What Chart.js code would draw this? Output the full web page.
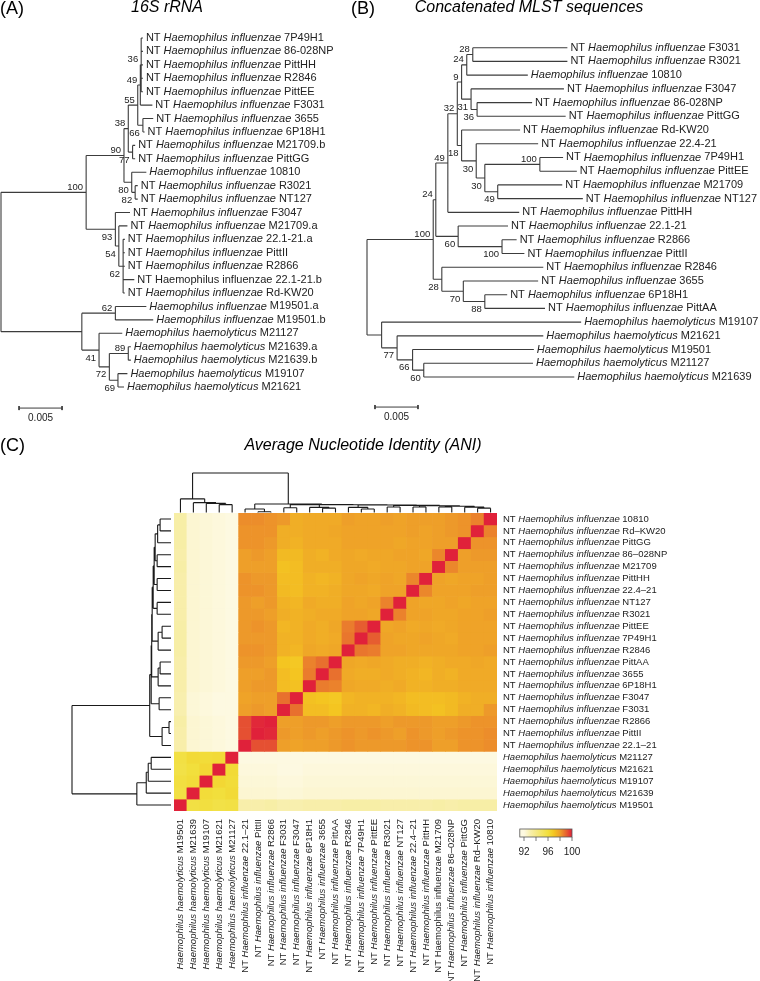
<!DOCTYPE html>
<html>
<head>
<meta charset="utf-8">
<script src="https://cdn.jsdelivr.net/npm/chart.js@4.4.1/dist/chart.umd.min.js"></script>
<style>
  body { margin: 0; background: #fff; width: 760px; height: 981px; position: relative; overflow: hidden; }
  canvas { position: absolute; }
</style>
</head>
<body>
<canvas id="treeA" width="350" height="440" style="left:0;top:0"></canvas>
<canvas id="treeB" width="410" height="440" style="left:350px;top:0"></canvas>
<canvas id="ani" width="760" height="551" style="left:0;top:430px"></canvas>
<script>
// ---- (A) 16S rRNA tree ----
const leavesA = ["7P49H1", "86-028NP", "PittHH", "R2846", "PittEE", "F3031", "3655", "6P18H1",
  "M21709.b", "PittGG", "10810", "R3021", "NT127", "F3047", "M21709.a", "22.1-21.a", "PittII",
  "R2866", "22.1-21.b", "Rd-KW20", "M19501.a", "M19501.b", "M21127", "M21639.a", "M21639.b",
  "M19107", "M21621"];
// nt = NT H. influenzae, hi = H. influenzae, hh = H. haemolyticus, ntu = printed upright
const leafTypeA = ["nt", "nt", "nt", "nt", "nt", "nt", "nt", "nt", "nt", "nt", "hi", "nt", "nt",
  "nt", "nt", "nt", "nt", "nt", "ntu", "nt", "hi", "hi", "hh", "hh", "hh", "hh", "hh"];
const leafDepthA = [0.0165, 0.0165, 0.0165, 0.0165, 0.0165, 0.0176, 0.0177, 0.0167, 0.0156, 0.0156,
  0.0169, 0.0159, 0.0159, 0.0150, 0.0147, 0.0144, 0.0144, 0.0144, 0.0155, 0.0144, 0.0169, 0.0177,
  0.0141, 0.0151, 0.0151, 0.0147, 0.0143];
const nodeIdA = ["root", "top", "n90", "n38", "n55", "n49", "n36", "n66", "n77", "n80", "n82", "n93",
  "n54", "n62", "bot", "n62b", "n41", "n72", "n89", "n69"];
const nodeKidsA = [["top", "bot"], ["n90", "n93"], ["n38", "n80"], ["n55", "n77"], ["n49", "n66"],
  ["n36", 5], [0, 1, 2, 3, 4], [6, 7], [8, 9], [10, "n82"], [11, 12], [13, "n54"], [14, "n62"],
  [15, 16, 17, 18, 19], ["n62b", "n41"], [20, 21], [22, "n72"], ["n89", "n69"], [23, 24], [25, 26]];
const nodeDepthA = [0, 0.0099, 0.0143, 0.0148, 0.0159, 0.0162, 0.0163, 0.0165, 0.0153, 0.0152, 0.0156,
  0.0133, 0.0137, 0.0142, 0.0094, 0.0133, 0.0114, 0.0126, 0.0148, 0.0136];
const bootA = ["", "100", "90", "38", "55", "49", "36", "66", "77", "80", "82", "93", "54", "62", "",
  "62", "41", "72", "89", "69"];
const bootSideA = [0, 1, 1, 1, 1, 1, 1, -1, -1, -1, -1, -1, -1, -1, 0, 1, -1, -1, 1, -1];

// ---- (B) concatenated MLST tree ----
const leavesB = ["F3031", "R3021", "10810", "F3047", "86-028NP", "PittGG", "Rd-KW20", "22.4-21",
  "7P49H1", "PittEE", "M21709", "NT127", "PittHH", "22.1-21", "R2866", "PittII", "R2846", "3655",
  "6P18H1", "PittAA", "M19107", "M21621", "M19501", "M21127", "M21639"];
const leafTypeB = ["nt", "nt", "hi", "nt", "nt", "nt", "nt", "nt", "nt", "nt", "nt", "nt", "nt",
  "nt", "nt", "nt", "nt", "nt", "nt", "nt", "hh", "hh", "hh", "hh", "hh"];
const leafDepthB = [0.0233, 0.0233, 0.0187, 0.0229, 0.0192, 0.0231, 0.0178, 0.0199, 0.0228, 0.0244,
  0.0227, 0.0251, 0.0177, 0.0164, 0.0174, 0.0183, 0.0205, 0.0199, 0.0163, 0.0207, 0.0249, 0.0205,
  0.0194, 0.0193, 0.0241];
const nodeIdB = ["root", "c100", "n24", "n49", "n32", "n9", "n24b", "n28b", "n31", "n36", "n18",
  "n30a", "n30b", "n100c", "n49c", "n60", "n100d", "n28", "n70", "n88", "hh", "n77", "n66", "n60b"];
const nodeKidsB = [["c100", "hh"], ["n24", "n28"], ["n49", "n60"], ["n32", 12], ["n9", "n18"],
  ["n24b", "n31"], ["n28b", 2], [0, 1], [3, "n36"], [4, 5], [6, "n30a"], [7, "n30b"],
  ["n100c", "n49c"], [8, 9], [10, 11], [13, "n100d"], [14, 15], [16, "n70"], [17, "n88"], [18, 19],
  [20, "n77"], [21, "n66"], [22, "n60b"], [23, 24]];
const nodeDepthB = [0, 0.0077, 0.0080, 0.0094, 0.0105, 0.0110, 0.0116, 0.0123, 0.0121, 0.0128, 0.0110,
  0.0127, 0.0137, 0.0201, 0.0152, 0.0106, 0.0157, 0.0087, 0.0112, 0.0137, 0.0017, 0.0035, 0.0053, 0.0066];
const bootB = ["", "100", "24", "49", "32", "9", "24", "28", "31", "36", "18", "30", "30", "100", "49",
  "60", "100", "28", "70", "88", "", "77", "66", "60"];
const bootSideB = [0, 1, 1, 1, 1, 1, 1, 1, -1, -1, -1, -1, -1, 1, -1, -1, -1, -1, -1, -1, 0, -1, -1, -1];

// ---- (C) ANI heatmap, strains in column order (rows are the reverse) ----
const colStrains = ["M19501", "M21639", "M19107", "M21621", "M21127", "22.1\u201321", "PittII", "R2866",
  "F3031", "F3047", "6P18H1", "3655", "PittAA", "R2846", "7P49H1", "PittEE", "R3021", "NT127",
  "22.4\u201321", "PittHH", "M21709", "86\u2013028NP", "PittGG", "Rd\u2013KW20", "10810"];
const colType = ["hh", "hh", "hh", "hh", "hh", "nt", "nt", "nt", "nt", "nt", "nt", "nt", "nt", "nt",
  "nt", "nt", "nt", "nt", "nt", "nt", "ntu", "nt", "nt", "nt", "nt"];
// lower triangle: aniLower[i-1][j] = ANI of strain i vs strain j (j < i)
const aniLower = [
  [95.8],
  [95.9, 96.1],
  [95.7, 96.0, 96.3],
  [95.8, 96.2, 96.1, 96.2],
  [93.1, 92.3, 92.2, 92.1, 92.0],
  [93.1, 92.3, 92.2, 92.1, 92.0, 99.3],
  [93.2, 92.3, 92.2, 92.1, 92.0, 99.3, 99.9],
  [93.0, 92.2, 92.1, 92.0, 92.0, 98.0, 98.1, 98.0],
  [93.0, 92.2, 92.1, 92.0, 92.0, 97.9, 98.0, 98.0, 98.8],
  [93.1, 92.3, 92.2, 92.1, 92.0, 98.0, 98.1, 98.1, 97.2, 97.1],
  [93.1, 92.3, 92.2, 92.1, 92.0, 98.0, 98.0, 98.1, 97.2, 97.0, 98.6],
  [93.1, 92.3, 92.2, 92.1, 92.0, 98.1, 98.1, 98.0, 97.0, 96.9, 98.5, 98.8],
  [93.2, 92.3, 92.2, 92.1, 92.0, 98.2, 98.2, 98.1, 97.5, 97.4, 97.8, 97.7, 97.8],
  [93.2, 92.3, 92.2, 92.1, 92.0, 98.1, 98.1, 98.1, 97.5, 97.5, 97.7, 97.6, 97.7, 98.7],
  [93.2, 92.3, 92.2, 92.1, 92.0, 98.1, 98.2, 98.1, 97.4, 97.5, 97.7, 97.6, 97.8, 98.6, 99.1],
  [93.1, 92.3, 92.2, 92.1, 92.0, 98.1, 98.1, 98.0, 97.6, 97.5, 97.6, 97.7, 97.7, 97.9, 97.9, 97.8],
  [93.1, 92.3, 92.2, 92.1, 92.0, 98.1, 98.0, 98.1, 97.5, 97.4, 97.7, 97.6, 97.6, 97.9, 97.8, 97.9, 98.5],
  [93.1, 92.3, 92.2, 92.1, 92.0, 98.2, 98.2, 98.1, 97.3, 97.2, 97.5, 97.5, 97.6, 97.8, 97.8, 97.7, 97.9, 97.9],
  [93.1, 92.3, 92.2, 92.1, 92.0, 98.2, 98.1, 98.1, 97.2, 97.2, 97.5, 97.4, 97.5, 97.8, 97.9, 97.8, 97.9, 97.8, 98.4],
  [93.2, 92.3, 92.2, 92.1, 92.0, 98.0, 98.0, 98.0, 97.1, 97.2, 97.6, 97.6, 97.6, 97.8, 97.8, 97.7, 97.8, 97.8, 97.9, 97.9],
  [93.1, 92.3, 92.2, 92.1, 92.0, 98.0, 98.1, 98.0, 97.3, 97.3, 97.6, 97.5, 97.7, 97.8, 97.7, 97.8, 97.8, 97.9, 97.9, 97.8, 98.4],
  [93.2, 92.3, 92.2, 92.1, 92.0, 98.2, 98.2, 98.1, 97.6, 97.5, 97.7, 97.7, 97.7, 97.9, 97.9, 97.9, 97.9, 97.8, 97.9, 97.9, 98.0, 98.0],
  [93.2, 92.3, 92.2, 92.1, 92.0, 98.2, 98.2, 98.2, 97.6, 97.6, 97.7, 97.7, 97.8, 97.9, 97.9, 97.9, 97.9, 97.9, 98.0, 97.9, 98.0, 98.1, 98.2],
  [93.2, 92.3, 92.2, 92.1, 92.0, 98.3, 98.3, 98.2, 98.1, 97.6, 97.7, 97.7, 97.7, 98.0, 97.9, 97.9, 98.0, 97.9, 98.0, 98.0, 98.0, 98.1, 98.2, 98.5]
];
// clustering of the ANI matrix; refs: number = strain (column index), "m#" = earlier merge
const mergeKids = [[3, 4], [2, "m0"], [1, "m1"], [0, "m2"], [6, 7], [5, "m4"], [8, 9], [11, 12],
  [10, "m7"], [14, 15], [13, "m9"], [16, 17], [18, 19], [20, 21], [23, 24], [22, "m14"],
  ["m13", "m15"], ["m12", "m16"], ["m11", "m17"], ["m10", "m18"], ["m8", "m19"], ["m6", "m20"],
  ["m5", "m21"], ["m3", "m22"]];
const mergeHeight = [2.0, 2.3, 2.5, 3.45, 0.2, 0.9, 1.2, 1.1, 1.3, 0.9, 1.3, 1.4, 1.4, 1.4, 1.1, 1.35,
  1.6, 1.7, 1.8, 1.9, 1.95, 2.0, 2.15, 10];
const keyValues = [92, 93, 94, 95, 96, 97, 98, 99, 100];
const keyColours = ["#fdf9e1", "#f8efae", "#f5e988", "#f3e462", "#f2df3c", "#f4c521", "#ee9f29",
  "#e7642f", "#e0213a"];
const keyTicks = [92, 94, 96, 98, 100];
const keyLabels = [92, 96, 100];

const FONT = '"Liberation Sans", Arial, Helvetica, sans-serif';
const INK = "#222";

function nameParts(type, strain) {
  if (type === "nt") return [["NT ", false], ["Haemophilus influenzae", true], [" " + strain, false]];
  if (type === "hi") return [["Haemophilus influenzae", true], [" " + strain, false]];
  if (type === "hh") return [["Haemophilus haemolyticus", true], [" " + strain, false]];
  return [["NT Haemophilus influenzae " + strain, false]];
}

function drawParts(ctx, parts, x, y, size, align) {
  const fonts = parts.map((p) => (p[1] ? "italic " : "") + size + "px " + FONT);
  const widths = parts.map((p, i) => { ctx.font = fonts[i]; return ctx.measureText(p[0]).width; });
  let cx = align === "right" ? x - widths.reduce((a, b) => a + b, 0) : x;
  ctx.textAlign = "left";
  ctx.textBaseline = "middle";
  parts.forEach((p, i) => { ctx.font = fonts[i]; ctx.fillText(p[0], cx, y); cx += widths[i]; });
}

// scale limits so that value v0 sits at pixel p0 and v1 at p1; a/b = pixels of min/max
function fit(v0, p0, v1, p1, a, b) {
  const k = (p1 - p0) / (v1 - v0);
  return { min: v0 + (a - p0) / k, max: v0 + (b - p0) / k };
}

function buildTree(ids, kids, depth, leafDepth) {
  const yOf = {};
  const ny = (ref) => {
    if (typeof ref === "number") return ref;
    if (yOf[ref] === undefined) {
      const ys = kids[ids.indexOf(ref)].map(ny);
      yOf[ref] = (Math.min(...ys) + Math.max(...ys)) / 2;
    }
    return yOf[ref];
  };
  const dx = (ref) => (typeof ref === "number" ? leafDepth[ref] : depth[ids.indexOf(ref)]);
  const pts = [];
  ids.forEach((id, i) => {
    const ys = kids[i].map(ny);
    pts.push({ x: depth[i], y: Math.min(...ys) }, { x: depth[i], y: Math.max(...ys) }, { x: null, y: null });
    kids[i].forEach((k) => pts.push({ x: depth[i], y: ny(k) }, { x: dx(k), y: ny(k) }, { x: null, y: null }));
  });
  return { pts, nodeY: ids.map(ny) };
}

function scaleBar(x0, y) {
  const t = 0.15;
  return [{ x: x0, y: y - t }, { x: x0, y: y + t }, { x: null, y: null },
    { x: x0, y: y }, { x: x0 + 0.005, y: y }, { x: null, y: null },
    { x: x0 + 0.005, y: y - t }, { x: x0 + 0.005, y: y + t }];
}

function makeTree(canvasId, t) {
  const canvas = document.getElementById(canvasId);
  const W = canvas.width, H = canvas.height;
  const tree = buildTree(t.ids, t.kids, t.depth, t.leafDepth);
  const n = t.leaves.length;
  const xs = fit(0, t.rootPx, 0.005, t.rootPx + 43, 0, W);
  const ys = fit(0, t.firstPx, n - 1, t.lastPx, 0, H);
  const textPlugin = {
    id: "treeText",
    afterDatasetsDraw(chart) {
      const { ctx, scales: { x, y } } = chart;
      ctx.save();
      ctx.fillStyle = INK;
      t.leaves.forEach((s, i) =>
        drawParts(ctx, nameParts(t.types[i], s), x.getPixelForValue(t.leafDepth[i]) + 3, y.getPixelForValue(i), 11, "left"));
      ctx.font = "9.5px " + FONT;
      ctx.textAlign = "right";
      ctx.textBaseline = "middle";
      t.boot.forEach((b, i) => {
        if (!b) return;
        ctx.fillText(b, x.getPixelForValue(t.depth[i]) - 3, y.getPixelForValue(tree.nodeY[i]) + (t.side[i] > 0 ? -5 : 8));
      });
      ctx.textAlign = "center";
      ctx.font = "10px " + FONT;
      ctx.fillText("0.005", x.getPixelForValue(t.barX + 0.0025), y.getPixelForValue(t.barY) + 10);
      ctx.textAlign = "left";
      ctx.fillStyle = "#000";
      ctx.font = "18px " + FONT;
      ctx.fillText(t.tag, t.tagX, 9);
      ctx.textAlign = "center";
      ctx.font = "italic 16px " + FONT;
      ctx.fillText(t.title, t.titleX, 8);
      ctx.restore();
    },
  };
  return new Chart(canvas, {
    type: "scatter",
    data: {
      datasets: [
        { data: tree.pts, showLine: true, spanGaps: false, borderColor: "#3c3c3c", borderWidth: 1.1, pointRadius: 0, clip: false },
        { data: scaleBar(t.barX, t.barY), showLine: true, spanGaps: false, borderColor: "#3c3c3c", borderWidth: 1, pointRadius: 0, clip: false },
      ],
    },
    options: {
      responsive: false,
      animation: false,
      events: [],
      layout: { padding: 0 },
      scales: {
        x: { type: "linear", display: false, offset: false, min: xs.min, max: xs.max },
        y: { type: "linear", display: false, offset: false, reverse: true, min: ys.min, max: ys.max },
      },
      plugins: { legend: { display: false }, tooltip: { enabled: false } },
    },
    plugins: [textPlugin],
  });
}

makeTree("treeA", {
  leaves: leavesA, types: leafTypeA, leafDepth: leafDepthA, ids: nodeIdA, kids: nodeKidsA,
  depth: nodeDepthA, boot: bootA, side: bootSideA,
  rootPx: 1, firstPx: 38, lastPx: 387, barX: 0.0021, barY: 27.57,
  tag: "(A)", tagX: 0, title: "16S rRNA", titleX: 167,
});
makeTree("treeB", {
  leaves: leavesB, types: leafTypeB, leafDepth: leafDepthB, ids: nodeIdB, kids: nodeKidsB,
  depth: nodeDepthB, boot: bootB, side: bootSideB,
  rootPx: 17, firstPx: 47.7, lastPx: 377, barX: 0.00093, barY: 26.19,
  tag: "(B)", tagX: 1, title: "Concatenated MLST sequences", titleX: 179,
});

// ---- heatmap ----
const nS = colStrains.length;
const ani = colStrains.map((_, i) => colStrains.map((_, j) =>
  i === j ? 100 : i > j ? aniLower[i - 1][j] : aniLower[j - 1][i]));

function hexRgb(h) { return [1, 3, 5].map((k) => parseInt(h.slice(k, k + 2), 16)); }
function aniColour(v) {
  let k = 0;
  while (k < keyValues.length - 2 && v > keyValues[k + 1]) k++;
  const f = Math.max(0, Math.min(1, (v - keyValues[k]) / (keyValues[k + 1] - keyValues[k])));
  const a = hexRgb(keyColours[k]), b = hexRgb(keyColours[k + 1]);
  return "rgb(" + a.map((c, i) => Math.round(c + (b[i] - c) * f)).join(",") + ")";
}

function dendroPoints(toXY) {
  const pos = [], hgt = [];
  const p = (r) => (typeof r === "number" ? r + 0.5 : pos[+r.slice(1)]);
  const h = (r) => (typeof r === "number" ? 0 : hgt[+r.slice(1)]);
  const pts = [];
  mergeKids.forEach((pair, m) => {
    const H = mergeHeight[m];
    const [a, b] = pair;
    pos[m] = (p(a) + p(b)) / 2;
    hgt[m] = H;
    [[p(a), h(a), p(a), H], [p(a), H, p(b), H], [p(b), H, p(b), h(b)]].forEach((s) => {
      pts.push(toXY(s[0], s[1]), toXY(s[2], s[3]), { x: null, y: null });
    });
  });
  return pts;
}

const C_TOP = 430;
const area = { left: 174, right: 497, top: 513 - C_TOP, bottom: 811 - C_TOP };
const cCanvas = document.getElementById("ani");

const rowDatasets = colStrains.map((_, r) => ({
  type: "bar",
  data: colStrains.map(() => [r, r + 1]),
  backgroundColor: colStrains.map((_, c) => aniColour(ani[nS - 1 - r][c])),
  borderWidth: 0,
  barPercentage: 1,
  categoryPercentage: 1,
  grouped: false,
}));

const topY = fit(0, 512.5 - C_TOP, 10, 473 - C_TOP, area.bottom, area.top);
const leftX = fit(0, 171, 10, 72, area.right, area.left);

const heatText = {
  id: "heatText",
  afterDatasetsDraw(chart) {
    const { ctx, scales } = chart;
    ctx.save();
    ctx.fillStyle = INK;
    colStrains.forEach((s, c) => {
      const x = scales.xTop.getPixelForValue(c + 0.5);
      ctx.save();
      ctx.translate(x, area.bottom + 8);
      ctx.rotate(-Math.PI / 2);
      drawParts(ctx, nameParts(colType[c], s), 0, 0, 9.5, "right");
      ctx.restore();
    });
    colStrains.forEach((s, c) => {
      const r = nS - 1 - c;
      drawParts(ctx, nameParts(colType[c] === "ntu" ? "nt" : colType[c], s), 503, scales.y.getPixelForValue(r + 0.5), 9.5, "left");
    });
    // colour key
    const kx = (v) => 524 + (v - 92) * 6;
    const ky = 829 - C_TOP;
    const g = ctx.createLinearGradient(kx(92), 0, kx(100), 0);
    keyValues.forEach((v, i) => g.addColorStop((v - 92) / 8, keyColours[i]));
    ctx.fillStyle = g;
    ctx.fillRect(kx(91.3), ky, kx(100) - kx(91.3), 8);
    ctx.strokeStyle = "#555";
    ctx.lineWidth = 0.8;
    ctx.strokeRect(kx(91.3), ky, kx(100) - kx(91.3), 8);
    ctx.beginPath();
    keyTicks.forEach((v) => { ctx.moveTo(kx(v), ky + 8); ctx.lineTo(kx(v), ky + 12); });
    ctx.stroke();
    ctx.fillStyle = INK;
    ctx.font = "10px " + FONT;
    ctx.textAlign = "center";
    ctx.textBaseline = "middle";
    keyLabels.forEach((v) => ctx.fillText(String(v), kx(v), ky + 23));
    // titles
    ctx.fillStyle = "#000";
    ctx.textAlign = "left";
    ctx.font = "18px " + FONT;
    ctx.fillText("(C)", 0, 16);
    ctx.textAlign = "center";
    ctx.font = "italic 16px " + FONT;
    ctx.fillText("Average Nucleotide Identity (ANI)", 363, 16);
    ctx.restore();
  },
};

new Chart(cCanvas, {
  type: "bar",
  data: {
    labels: colStrains,
    datasets: rowDatasets.concat([
      {
        type: "line",
        xAxisID: "xTop",
        yAxisID: "yTop",
        data: dendroPoints((p, h) => ({ x: p, y: h })),
        borderColor: "#1a1a1a",
        borderWidth: 1.1,
        pointRadius: 0,
        spanGaps: false,
        clip: false,
      },
      {
        type: "line",
        xAxisID: "xLeft",
        yAxisID: "y",
        data: dendroPoints((p, h) => ({ x: h, y: nS - p })),
        borderColor: "#1a1a1a",
        borderWidth: 1.1,
        pointRadius: 0,
        spanGaps: false,
        clip: false,
      },
    ]),
  },
  options: {
    responsive: false,
    animation: false,
    events: [],
    layout: { padding: { left: area.left, right: 760 - area.right, top: area.top, bottom: 551 - area.bottom } },
    scales: {
      x: { type: "category", display: false, offset: true },
      y: { type: "linear", display: false, offset: false, reverse: true, min: 0, max: nS },
      xTop: { type: "linear", axis: "x", display: false, offset: false, min: 0, max: nS },
      yTop: { type: "linear", axis: "y", display: false, offset: false, min: topY.min, max: topY.max },
      xLeft: { type: "linear", axis: "x", display: false, offset: false, reverse: true, min: leftX.min, max: leftX.max },
    },
    plugins: { legend: { display: false }, tooltip: { enabled: false } },
  },
  plugins: [heatText],
});
</script>
</body>
</html>
